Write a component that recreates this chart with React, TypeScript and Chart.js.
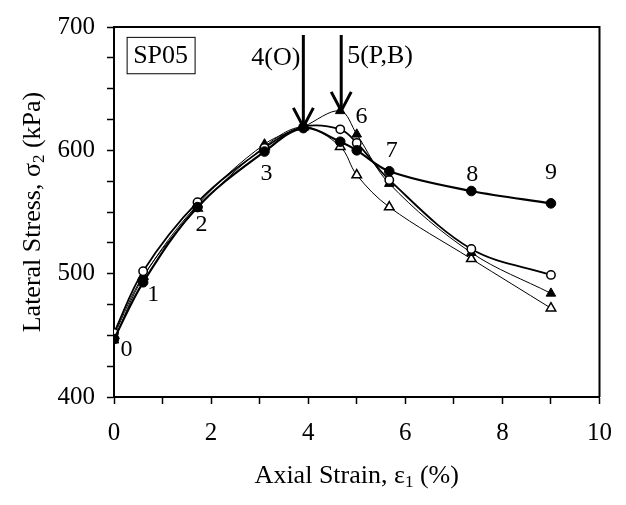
import React, { useEffect, useRef } from "react";
import { Chart, registerables } from "chart.js";

Chart.register(...registerables);

// Axial strain (%) of each test stage 0..9
const strain = [0, 0.6, 1.72, 3.1, 3.9, 4.66, 5.0, 5.67, 7.36, 9.0];
// Lateral stress (kPa) for the four measurement series
const filledCircle = [447, 493, 554, 599, 618, 607, 600, 583, 567, 557];
const openCircle = [452, 502, 558, 602, 619, 617, 606, 576, 520, 499];
const filledTriangle = [446, 497, 556, 605, 619, 632, 613, 573, 517, 484];
const openTriangle = [450, 498, 553, 603, 619, 603, 580, 554, 512, 472];

// Stage-number labels and their anchor (data units)
const stageText = ["0", "1", "2", "3", "6", "7", "8", "9"];
const stageX = [0.26, 0.81, 1.8, 3.14, 5.1, 5.72, 7.38, 9.0];
const stageY = [438, 483, 540, 581, 627, 600, 580, 582];

// Arrows (strain, tip stress) and their captions
const arrowText = ["4(O)", "5(P,B)"];
const arrowX = [3.9, 4.68];
const arrowTip = [619, 632];

const xTicks = [0, 2, 4, 6, 8, 10];
const yTicks = [400, 500, 600, 700];
const specimen = "SP05";

const FONT = "'Liberation Serif', 'Times New Roman', serif";

export default function App() {
  const ref = useRef<HTMLCanvasElement | null>(null);

  useEffect(() => {
    const canvas = ref.current;
    if (!canvas) return;
    const mk = (arr: number[]) => strain.map((x, i) => ({ x, y: arr[i] }));

    const overlay = {
      id: "overlay",
      afterDatasetsDraw(chart: any) {
        const ctx = chart.ctx as CanvasRenderingContext2D;
        const xs = chart.scales.x;
        const ys = chart.scales.y;
        const area = chart.chartArea;
        ctx.save();
        // frame top/right
        ctx.strokeStyle = "#000";
        ctx.lineWidth = 2;
        ctx.beginPath();
        ctx.moveTo(area.left, area.top);
        ctx.lineTo(area.right, area.top);
        ctx.lineTo(area.right, area.bottom);
        ctx.stroke();

        // stage labels
        ctx.fillStyle = "#000";
        ctx.font = `24px ${FONT}`;
        ctx.textAlign = "center";
        ctx.textBaseline = "middle";
        stageText.forEach((t, i) => {
          ctx.fillText(t, xs.getPixelForValue(stageX[i]), ys.getPixelForValue(stageY[i]));
        });

        // arrows
        ctx.lineWidth = 3;
        ctx.lineJoin = "miter";
        ctx.font = `26px ${FONT}`;
        arrowX.forEach((ax, i) => {
          const px = xs.getPixelForValue(ax);
          const tip = ys.getPixelForValue(arrowTip[i]);
          ctx.beginPath();
          ctx.moveTo(px, area.top + 8);
          ctx.lineTo(px, tip);
          ctx.stroke();
          ctx.beginPath();
          ctx.moveTo(px - 10, tip - 19);
          ctx.lineTo(px, tip);
          ctx.lineTo(px + 10, tip - 19);
          ctx.stroke();
          ctx.textBaseline = "middle";
          if (i === 0) {
            ctx.textAlign = "right";
            ctx.fillText(arrowText[i], px - 3, area.top + 31);
          } else {
            ctx.textAlign = "left";
            ctx.fillText(arrowText[i], px + 6, area.top + 29);
          }
        });

        // specimen box
        const bx0 = xs.getPixelForValue(0.26);
        const bx1 = xs.getPixelForValue(1.66);
        const by0 = ys.getPixelForValue(692);
        const by1 = ys.getPixelForValue(662.5);
        ctx.lineWidth = 1;
        ctx.strokeRect(bx0 + 0.5, by0 + 0.5, bx1 - bx0, by1 - by0);
        ctx.textAlign = "center";
        ctx.font = `26px ${FONT}`;
        ctx.fillText(specimen, (bx0 + bx1) / 2, (by0 + by1) / 2 + 1);

        // axis titles with subscripts
        const drawSub = (parts: [string, boolean][], cx: number, cy: number) => {
          const big = `26px ${FONT}`;
          const small = `17px ${FONT}`;
          let w = 0;
          parts.forEach(([s, sub]) => {
            ctx.font = sub ? small : big;
            w += ctx.measureText(s).width;
          });
          let x = cx - w / 2;
          ctx.textAlign = "left";
          ctx.textBaseline = "alphabetic";
          parts.forEach(([s, sub]) => {
            ctx.font = sub ? small : big;
            ctx.fillText(s, x, cy + (sub ? 4 : 0));
            x += ctx.measureText(s).width;
          });
        };
        drawSub(
          [["Axial Strain, \u03b5", false], ["1", true], [" (%)", false]],
          (area.left + area.right) / 2,
          483
        );
        ctx.save();
        ctx.translate(40, (area.top + area.bottom) / 2);
        ctx.rotate(-Math.PI / 2);
        drawSub(
          [["Lateral Stress, \u03c3", false], ["2", true], [" (kPa)", false]],
          0,
          0
        );
        ctx.restore();
        ctx.restore();
      },
    };

    const chart = new Chart(canvas, {
      type: "scatter",
      data: {
        datasets: [
          {
            data: mk(filledCircle),
            showLine: true,
            borderColor: "#000",
            borderWidth: 2.2,
            tension: 0.35,
            pointStyle: "circle",
            pointRadius: 4.8,
            pointBackgroundColor: "#000",
            pointBorderColor: "#000",
            pointBorderWidth: 1,
          },
          {
            data: mk(openCircle),
            showLine: true,
            borderColor: "#000",
            borderWidth: 1.8,
            tension: 0.35,
            pointStyle: "circle",
            pointRadius: 4.2,
            pointBackgroundColor: "#fff",
            pointBorderColor: "#000",
            pointBorderWidth: 1.5,
          },
          {
            data: mk(filledTriangle),
            showLine: true,
            borderColor: "#000",
            borderWidth: 1,
            tension: 0.35,
            pointStyle: "triangle",
            pointRadius: 5.5,
            pointBackgroundColor: "#000",
            pointBorderColor: "#000",
            pointBorderWidth: 1,
          },
          {
            data: mk(openTriangle),
            showLine: true,
            borderColor: "#000",
            borderWidth: 1,
            tension: 0.35,
            pointStyle: "triangle",
            pointRadius: 5.5,
            pointBackgroundColor: "#fff",
            pointBorderColor: "#000",
            pointBorderWidth: 1.5,
          },
        ],
      },
      options: {
        responsive: false,
        devicePixelRatio: 1,
        animation: false,
        events: [],
        layout: { padding: { top: 21, right: 18, left: 0, bottom: 0 } },
        plugins: { legend: { display: false }, tooltip: { enabled: false } },
        scales: {
          x: {
            type: "linear",
            min: 0,
            max: 10,
            afterFit: (s: any) => {
              s.height = 108;
            },
            ticks: {
              stepSize: 1,
              autoSkip: false,
              maxRotation: 0,
              padding: 14,
              color: "#000",
              font: { family: FONT, size: 25 },
              callback: (v: any) => (xTicks.includes(Number(v)) ? String(v) : ""),
            },
            grid: {
              drawOnChartArea: false,
              drawTicks: true,
              tickLength: 7,
              tickColor: "#000",
              tickWidth: 1.5,
            },
            border: { display: true, color: "#000", width: 2 },
          },
          y: {
            type: "linear",
            min: 400,
            max: 700,
            afterFit: (s: any) => {
              s.width = 114;
            },
            ticks: {
              stepSize: 25,
              autoSkip: false,
              padding: 12,
              color: "#000",
              font: { family: FONT, size: 25 },
              callback: (v: any) => (yTicks.includes(Number(v)) ? String(v) : ""),
            },
            grid: {
              drawOnChartArea: false,
              drawTicks: true,
              tickLength: 7,
              tickColor: "#000",
              tickWidth: 1.5,
            },
            border: { display: true, color: "#000", width: 2 },
          },
        },
      },
      plugins: [overlay],
    });
    return () => chart.destroy();
  }, []);

  return (
    <div style={{ position: "absolute", left: 0, top: 0, width: 626, height: 505, background: "#fff" }}>
      <canvas ref={ref} width={626} height={505} />
    </div>
  );
}
